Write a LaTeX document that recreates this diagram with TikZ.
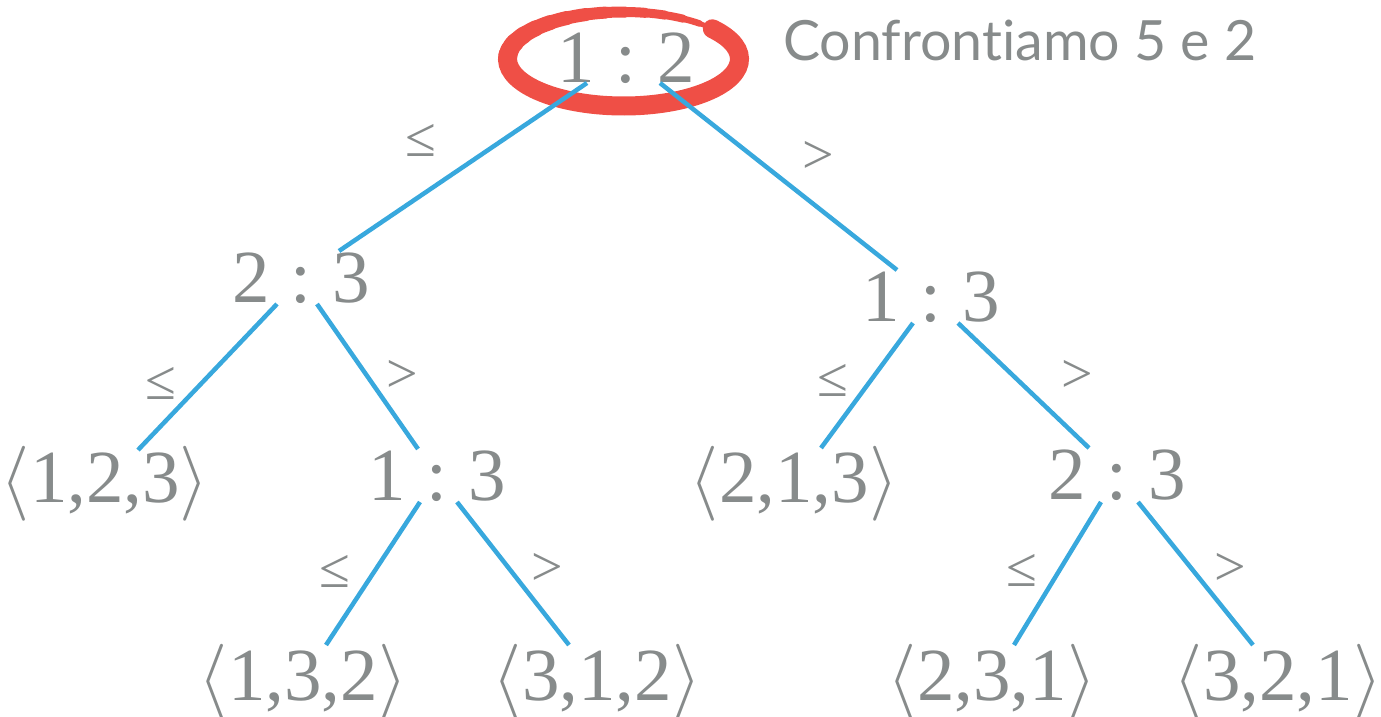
\documentclass[tikz,border=0pt]{standalone}
\usepackage{fix-cm}
\usepackage{fontspec}
\setmainfont{Liberation Serif}
\newfontfamily\sansf[Ligatures=NoCommon]{Lato}
\definecolor{txtgray}{HTML}{878B8B}
\definecolor{edgeblue}{HTML}{38A8DD}
\definecolor{markred}{HTML}{EF4F46}
\newcommand{\cmpn}[2]{#1\hspace{0.28em}:\hspace{0.28em}#2}
\newcommand{\perm}[3]{$\langle$#1,#2,#3$\rangle$}
\tikzset{
  tree/.style={text=txtgray, inner sep=0pt, anchor=base, font=\fontsize{75}{75}\selectfont},
  lbl/.style={text=txtgray, inner sep=0pt, anchor=center, font=\fontsize{56}{56}\selectfont},
  edge/.style={draw=edgeblue, line width=4.5pt},
  redmark/.style={draw=markred, line cap=round}
}
\begin{document}
\begin{tikzpicture}[x=1pt,y=-1pt]
\useasboundingbox (0,0) rectangle (1381,717);
% red mark
\draw[redmark, line width=19pt] (623.5,59) ++(-40:116 and 47) arc[start angle=-40, end angle=185, x radius=116, y radius=47];
\foreach \a/\w in {180/18.5,190/18,200/17,210/16,220/15,230/14,240/13,250/12,260/11,270/10,280/9,290/8,300/6.5,310/5}{
  \draw[redmark, line width=\w pt] (623.5,59) ++(\a:116 and 47) arc[start angle=\a, end angle=\a+11, x radius=116, y radius=47];
}
% nodes
\node[tree] (root) at (626,82) {\cmpn{1}{2}};
\node[tree] (l) at (301,302) {\cmpn{2}{3}};
\node[tree] (r) at (931,321) {\cmpn{1}{3}};
\node[tree] (a) at (105,502) {\perm{1}{2}{3}};
\node[tree] (m) at (437,500) {\cmpn{1}{3}};
\node[tree] (b) at (794,502) {\perm{2}{1}{3}};
\node[tree] (r2) at (1117,499) {\cmpn{2}{3}};
\node[tree] (c) at (303,700) {\perm{1}{3}{2}};
\node[tree] (d) at (597,700) {\perm{3}{1}{2}};
\node[tree] (e) at (992,700) {\perm{2}{3}{1}};
\node[tree] (f) at (1278,700) {\perm{3}{2}{1}};
\node[text=txtgray, inner sep=0pt, anchor=base west, font=\sansf\fontsize{55.5}{55.5}\selectfont] (note) at (783,61) {Confrontiamo 5 e 2};
% edges
\draw[edge] ([xshift=-39pt,yshift=-1pt]root.base) -- ([xshift=38pt,yshift=51pt]l.base);
\draw[edge] ([xshift=34pt,yshift=-1pt]root.base) -- ([xshift=-34pt,yshift=51pt]r.base);
\draw[edge] ([xshift=-24pt,yshift=-2pt]l.base) -- ([xshift=33pt,yshift=52pt]a.base);
\draw[edge] ([xshift=16pt,yshift=-2pt]l.base) -- ([xshift=-19pt,yshift=51pt]m.base);
\draw[edge] ([xshift=-18pt,yshift=-2pt]r.base) -- ([xshift=27pt,yshift=54pt]b.base);
\draw[edge] ([xshift=27pt,yshift=-2pt]r.base) -- ([xshift=-28pt,yshift=51pt]r2.base);
\draw[edge] ([xshift=-17pt,yshift=-2pt]m.base) -- ([xshift=23pt,yshift=55pt]c.base);
\draw[edge] ([xshift=20pt,yshift=-2pt]m.base) -- ([xshift=-28pt,yshift=55pt]d.base);
\draw[edge] ([xshift=-16pt,yshift=-3pt]r2.base) -- ([xshift=22pt,yshift=55pt]e.base);
\draw[edge] ([xshift=21pt,yshift=-3pt]r2.base) -- ([xshift=-25pt,yshift=55pt]f.base);
% labels
\node[lbl] (l1) at (421,140) {≤};
\node[lbl] (g1) at (818,157) {>};
\node[lbl] (l2) at (161,383) {≤};
\node[lbl] (g2) at (402,376) {>};
\node[lbl] (l3) at (833,380) {≤};
\node[lbl] (g3) at (1077,376) {>};
\node[lbl] (l4) at (335,571) {≤};
\node[lbl] (g4) at (547,569) {>};
\node[lbl] (l5) at (1022,570) {≤};
\node[lbl] (g5) at (1230,569) {>};
\end{tikzpicture}
\end{document}
